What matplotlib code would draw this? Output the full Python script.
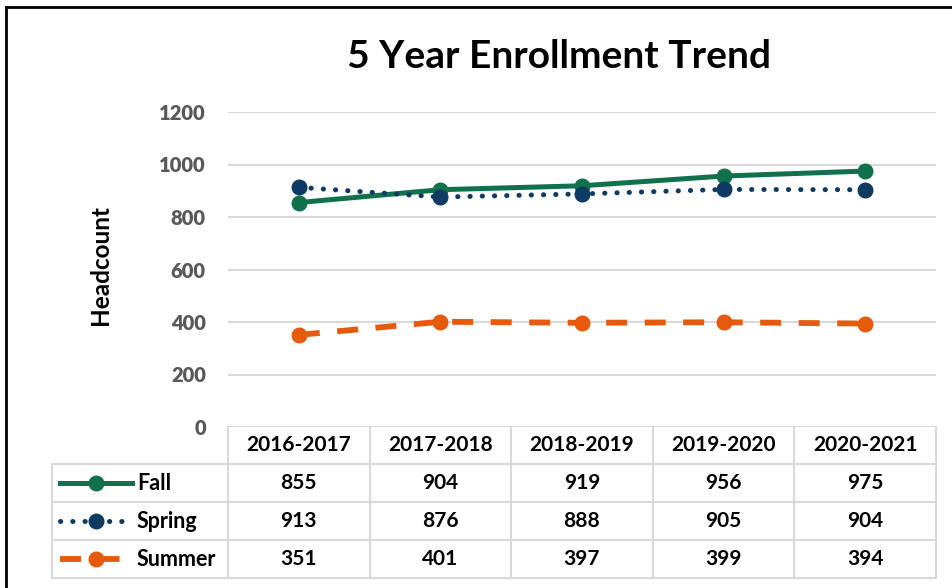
import matplotlib.pyplot as plt
import matplotlib.transforms as mtransforms
from matplotlib.lines import Line2D

# data
years = ["2016-2017", "2017-2018", "2018-2019", "2019-2020", "2020-2021"]
fall = [855, 904, 919, 956, 975]
spring = [913, 876, 888, 905, 904]
summer = [351, 401, 397, 399, 394]
yticks = [0, 200, 400, 600, 800, 1000, 1200]

plt.rcParams['font.family'] = ['Lato', 'DejaVu Sans']

W, H = 952, 588
fig = plt.figure(figsize=(W / 100, H / 100), dpi=100)

def fx(px):
    return px / W

def fy(py):
    return 1 - py / H

ax = fig.add_axes([fx(228), fy(427), fx(936) - fx(228), fy(112) - fy(427)])

series = [
    ("Fall", fall, dict(color="#11714d", linestyle="-", lw=3.6)),
    ("Spring", spring, dict(color="#0f3b63", linestyle=(0, (0.05, 2.4)), lw=3.6,
                            dash_capstyle="round")),
    ("Summer", summer, dict(color="#e55a0c", linestyle=(0, (3.6, 3.0)), lw=4.2)),
]

x = list(range(len(years)))
for name, vals, st in series:
    ax.plot(x, vals, marker="o", markersize=10.5, zorder=3, **st)

ax.set_xlim(-0.5, len(years) - 0.5)
ax.set_ylim(0, 1200)
ax.set_yticks(yticks)
ax.set_xticks([])
ax.grid(axis="y", color="#d9d9d9", lw=1.5)
ax.set_axisbelow(True)
for s in ax.spines.values():
    s.set_visible(False)
ax.tick_params(axis="y", length=0, pad=16, labelsize=14.5, labelcolor="#595959")
for lab in ax.get_yticklabels():
    lab.set_fontweight("heavy")

fig.text(fx(100), fy(265), "Headcount", rotation=90, ha="center", va="center",
         fontsize=17.5, fontweight="bold")
fig.text(fx(559), fy(57), "5 Year Enrollment Trend", ha="center", va="center",
         fontsize=28, fontweight="bold")

# data table below the axes
grid_c = "#d9d9d9"
cell_fs = 15
bt = mtransforms.blended_transform_factory(ax.transData, fig.transFigure)
row_lines = [464, 502, 540, 578]
for r in row_lines:
    fig.add_artist(Line2D([fx(52), fx(936)], [fy(r)] * 2, color=grid_c, lw=1.5))
fig.add_artist(Line2D([fx(52), fx(52)], [fy(464), fy(578)], color=grid_c, lw=1.5))
for b in range(len(years) + 1):
    ax.add_line(Line2D([b - 0.5, b - 0.5], [fy(427), fy(578)], transform=bt,
                       color=grid_c, lw=1.5, clip_on=False))

for i, yr in enumerate(years):
    ax.text(i, fy(445), yr, transform=bt, ha="center", va="center",
            fontsize=cell_fs, fontweight="bold")

row_centers = [483, 521, 559]
for (name, vals, st), rc in zip(series, row_centers):
    for i, v in enumerate(vals):
        ax.text(i, fy(rc), str(v), transform=bt, ha="center", va="center",
                fontsize=cell_fs, fontweight="bold")
    fig.add_artist(Line2D([fx(60), fx(132)], [fy(rc)] * 2, **st))
    fig.add_artist(Line2D([fx(96)], [fy(rc)], marker="o", markersize=10.5,
                          color=st["color"], linestyle="none"))
    fig.text(fx(137), fy(rc), name, ha="left", va="center", fontsize=15.5,
             fontweight="bold")

# chart border
fig.add_artist(Line2D([fx(6), fx(6)], [fy(7), 0], color="black", lw=2))
fig.add_artist(Line2D([fx(6), 1], [fy(7), fy(7)], color="black", lw=2))

fig.savefig("out.png", dpi=100)
